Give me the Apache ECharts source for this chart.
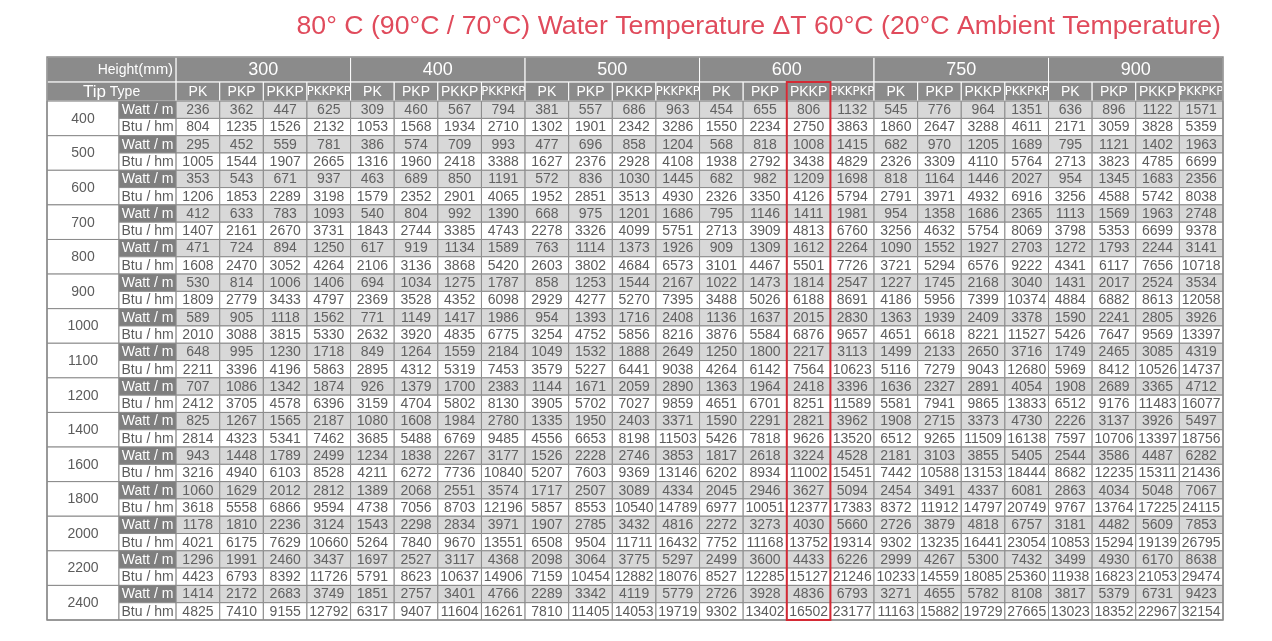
<!DOCTYPE html>
<html>
<head>
<meta charset="utf-8">
<script src="https://cdn.jsdelivr.net/npm/echarts@6/dist/echarts.min.js"></script>
<style>
  html, body { margin: 0; padding: 0; background: #fff; }
  #table { width: 1272px; height: 641px; }
</style>
</head>
<body>
<div id="table"></div>
<script>
var myChart = echarts.init(document.getElementById('table'));

// panel heights (mm), tip types, element lengths (mm), units
let panels = ['300', '400', '500', '600', '750', '900'],
    tipTypes = ['PK', 'PKP', 'PKKP', 'PKKPKP'],
    lengths = ['400', '500', '600', '700', '800', '900', '1000', '1100', '1200', '1400', '1600', '1800', '2000', '2200', '2400'],
    units = ['Watt / m', 'Btu / hm'];

// one row per length, 24 columns = 6 panel heights x 4 tip types
let wattRows = [
  [236,362,447,625, 309,460,567,794, 381,557,686,963, 454,655,806,1132, 545,776,964,1351, 636,896,1122,1571],
  [295,452,559,781, 386,574,709,993, 477,696,858,1204, 568,818,1008,1415, 682,970,1205,1689, 795,1121,1402,1963],
  [353,543,671,937, 463,689,850,1191, 572,836,1030,1445, 682,982,1209,1698, 818,1164,1446,2027, 954,1345,1683,2356],
  [412,633,783,1093, 540,804,992,1390, 668,975,1201,1686, 795,1146,1411,1981, 954,1358,1686,2365, 1113,1569,1963,2748],
  [471,724,894,1250, 617,919,1134,1589, 763,1114,1373,1926, 909,1309,1612,2264, 1090,1552,1927,2703, 1272,1793,2244,3141],
  [530,814,1006,1406, 694,1034,1275,1787, 858,1253,1544,2167, 1022,1473,1814,2547, 1227,1745,2168,3040, 1431,2017,2524,3534],
  [589,905,1118,1562, 771,1149,1417,1986, 954,1393,1716,2408, 1136,1637,2015,2830, 1363,1939,2409,3378, 1590,2241,2805,3926],
  [648,995,1230,1718, 849,1264,1559,2184, 1049,1532,1888,2649, 1250,1800,2217,3113, 1499,2133,2650,3716, 1749,2465,3085,4319],
  [707,1086,1342,1874, 926,1379,1700,2383, 1144,1671,2059,2890, 1363,1964,2418,3396, 1636,2327,2891,4054, 1908,2689,3365,4712],
  [825,1267,1565,2187, 1080,1608,1984,2780, 1335,1950,2403,3371, 1590,2291,2821,3962, 1908,2715,3373,4730, 2226,3137,3926,5497],
  [943,1448,1789,2499, 1234,1838,2267,3177, 1526,2228,2746,3853, 1817,2618,3224,4528, 2181,3103,3855,5405, 2544,3586,4487,6282],
  [1060,1629,2012,2812, 1389,2068,2551,3574, 1717,2507,3089,4334, 2045,2946,3627,5094, 2454,3491,4337,6081, 2863,4034,5048,7067],
  [1178,1810,2236,3124, 1543,2298,2834,3971, 1907,2785,3432,4816, 2272,3273,4030,5660, 2726,3879,4818,6757, 3181,4482,5609,7853],
  [1296,1991,2460,3437, 1697,2527,3117,4368, 2098,3064,3775,5297, 2499,3600,4433,6226, 2999,4267,5300,7432, 3499,4930,6170,8638],
  [1414,2172,2683,3749, 1851,2757,3401,4766, 2289,3342,4119,5779, 2726,3928,4836,6793, 3271,4655,5782,8108, 3817,5379,6731,9423]
];

let btuRows = [
  [804,1235,1526,2132, 1053,1568,1934,2710, 1302,1901,2342,3286, 1550,2234,2750,3863, 1860,2647,3288,4611, 2171,3059,3828,5359],
  [1005,1544,1907,2665, 1316,1960,2418,3388, 1627,2376,2928,4108, 1938,2792,3438,4829, 2326,3309,4110,5764, 2713,3823,4785,6699],
  [1206,1853,2289,3198, 1579,2352,2901,4065, 1952,2851,3513,4930, 2326,3350,4126,5794, 2791,3971,4932,6916, 3256,4588,5742,8038],
  [1407,2161,2670,3731, 1843,2744,3385,4743, 2278,3326,4099,5751, 2713,3909,4813,6760, 3256,4632,5754,8069, 3798,5353,6699,9378],
  [1608,2470,3052,4264, 2106,3136,3868,5420, 2603,3802,4684,6573, 3101,4467,5501,7726, 3721,5294,6576,9222, 4341,6117,7656,10718],
  [1809,2779,3433,4797, 2369,3528,4352,6098, 2929,4277,5270,7395, 3488,5026,6188,8691, 4186,5956,7399,10374, 4884,6882,8613,12058],
  [2010,3088,3815,5330, 2632,3920,4835,6775, 3254,4752,5856,8216, 3876,5584,6876,9657, 4651,6618,8221,11527, 5426,7647,9569,13397],
  [2211,3396,4196,5863, 2895,4312,5319,7453, 3579,5227,6441,9038, 4264,6142,7564,10623, 5116,7279,9043,12680, 5969,8412,10526,14737],
  [2412,3705,4578,6396, 3159,4704,5802,8130, 3905,5702,7027,9859, 4651,6701,8251,11589, 5581,7941,9865,13833, 6512,9176,11483,16077],
  [2814,4323,5341,7462, 3685,5488,6769,9485, 4556,6653,8198,11503, 5426,7818,9626,13520, 6512,9265,11509,16138, 7597,10706,13397,18756],
  [3216,4940,6103,8528, 4211,6272,7736,10840, 5207,7603,9369,13146, 6202,8934,11002,15451, 7442,10588,13153,18444, 8682,12235,15311,21436],
  [3618,5558,6866,9594, 4738,7056,8703,12196, 5857,8553,10540,14789, 6977,10051,12377,17383, 8372,11912,14797,20749, 9767,13764,17225,24115],
  [4021,6175,7629,10660, 5264,7840,9670,13551, 6508,9504,11711,16432, 7752,11168,13752,19314, 9302,13235,16441,23054, 10853,15294,19139,26795],
  [4423,6793,8392,11726, 5791,8623,10637,14906, 7159,10454,12882,18076, 8527,12285,15127,21246, 10233,14559,18085,25360, 11938,16823,21053,29474],
  [4825,7410,9155,12792, 6317,9407,11604,16261, 7810,11405,14053,19719, 9302,13402,16502,23177, 11163,15882,19729,27665, 13023,18352,22967,32154]
];

// highlighted column: panel 600, type PKKP
let highlight = { panel: '600', type: 'PKKP' };

// layout in axis units (1 x-unit = one data column, 1 y-unit = one body row)
var LW1 = 1.65, LW2 = 1.31, HR1 = 1.45, HR2 = 1.1;
var nCols = panels.length * tipTypes.length;
var nRows = lengths.length * 2;

var font = "'Liberation Sans', Arial, sans-serif";
var styles = {
  hdr:    { fill: '#8b8b8b', stroke: '#ffffff', color: '#ffffff', size: 14 },
  group:  { fill: '#8b8b8b', stroke: '#ffffff', color: '#ffffff', size: 18 },
  len:    { fill: '#ffffff', stroke: '#8a8a8a', color: '#5c5c5c', size: 14 },
  unitW:  { fill: '#7f7f7f', stroke: '#8a8a8a', color: '#ffffff', size: 14 },
  unitB:  { fill: '#ffffff', stroke: '#8a8a8a', color: '#5c5c5c', size: 14 },
  cellW:  { fill: '#d8d8d8', stroke: '#8a8a8a', color: '#626262', size: 14 },
  cellB:  { fill: '#ffffff', stroke: '#8a8a8a', color: '#5c5c5c', size: 14 }
};

var cells = [];
function add(x0, x1, y0, y1, text, kind, extra) {
  cells.push(Object.assign({ x0: x0, x1: x1, y0: y0, y1: y1, text: text, kind: kind }, extra || {}));
}

// header row 1
add(-LW1 - LW2, 0, -HR1 - HR2, -HR2, '{a|Height}{b|(mm)}', 'hdr', { align: 'right' });
panels.forEach(function (p, i) {
  add(i * 4, i * 4 + 4, -HR1 - HR2, -HR2, p, 'group');
});
// header row 2
add(-LW1 - LW2, 0, -HR2, 0, '{c|Tip} {a|Type}', 'hdr');
panels.forEach(function (p, i) {
  tipTypes.forEach(function (t, j) {
    add(i * 4 + j, i * 4 + j + 1, -HR2, 0, t, 'hdr', { narrow: t.length > 4 });
  });
});
// body
lengths.forEach(function (len, i) {
  var r = i * 2;
  add(-LW1 - LW2, -LW2, r, r + 2, len, 'len');
  add(-LW2, 0, r, r + 1, units[0], 'unitW');
  add(-LW2, 0, r + 1, r + 2, units[1], 'unitB');
  for (var c = 0; c < nCols; c++) {
    add(c, c + 1, r, r + 1, String(wattRows[i][c]), 'cellW');
    add(c, c + 1, r + 1, r + 2, String(btuRows[i][c]), 'cellB');
  }
});

var hiCol = panels.indexOf(highlight.panel) * 4 + tipTypes.indexOf(highlight.type);

function renderCell(params, api) {
  var d = cells[params.dataIndex];
  var p0 = api.coord([d.x0, d.y0]);
  var p1 = api.coord([d.x1, d.y1]);
  var s = styles[d.kind];
  var w = p1[0] - p0[0], h = p1[1] - p0[1];
  var tx = d.align === 'right' ? p1[0] - 3 : p0[0] + w / 2;
  return {
    type: 'group',
    children: [
      { type: 'rect', shape: { x: p0[0], y: p0[1], width: w, height: h },
        style: { fill: s.fill, stroke: s.stroke, lineWidth: 1 } },
      { type: 'text',
        style: {
          x: tx, y: p0[1] + h / 2 + 0.5,
          text: d.text,
          align: d.align || 'center', verticalAlign: 'middle',
          fill: s.color,
          fontSize: d.narrow ? 13 : s.size,
          fontFamily: d.narrow ? "'Liberation Sans Narrow', 'DejaVu Sans Condensed', sans-serif" : font,
          rich: {
            a: { fontSize: 14, fill: '#fff', fontFamily: font },
            b: { fontSize: 15, fill: '#fff', fontFamily: font },
            c: { fontSize: 17, fill: '#fff', fontFamily: font }
          }
        } }
    ]
  };
}

var option = {
  animation: false,
  title: {
    text: '80° C (90°C / 70°C) Water Temperature ΔT 60°C (20°C Ambient Temperature)',
    right: 46,
    top: 8,
    textStyle: { color: '#e04b5c', fontSize: 26.7, fontWeight: 'normal', fontFamily: font }
  },
  grid: { left: 47, right: 49, top: 57, bottom: 21 },
  xAxis: { type: 'value', min: -LW1 - LW2, max: nCols, show: false },
  yAxis: { type: 'value', min: -HR1 - HR2, max: nRows, inverse: true, show: false },
  series: [
    {
      type: 'custom',
      renderItem: renderCell,
      data: cells.map(function (d) { return [(d.x0 + d.x1) / 2, (d.y0 + d.y1) / 2]; }),
      silent: true
    },
    {
      // outer frame and highlighted column
      type: 'custom',
      silent: true,
      renderItem: function (params, api) {
        var item = params.dataIndex === 0
          ? { x0: -LW1 - LW2, x1: nCols, y0: -HR1 - HR2, y1: nRows, color: '#8a8a8a', lw: 1.5 }
          : { x0: hiCol, x1: hiCol + 1, y0: -HR2, y1: nRows, color: '#d42a35', lw: 2 };
        var p0 = api.coord([item.x0, item.y0]);
        var p1 = api.coord([item.x1, item.y1]);
        return { type: 'rect', shape: { x: p0[0], y: p0[1], width: p1[0] - p0[0], height: p1[1] - p0[1] },
                 style: { fill: null, stroke: item.color, lineWidth: item.lw } };
      },
      data: [[0, 0], [hiCol, 0]]
    }
  ]
};
myChart.setOption(option);
</script>
</body>
</html>
